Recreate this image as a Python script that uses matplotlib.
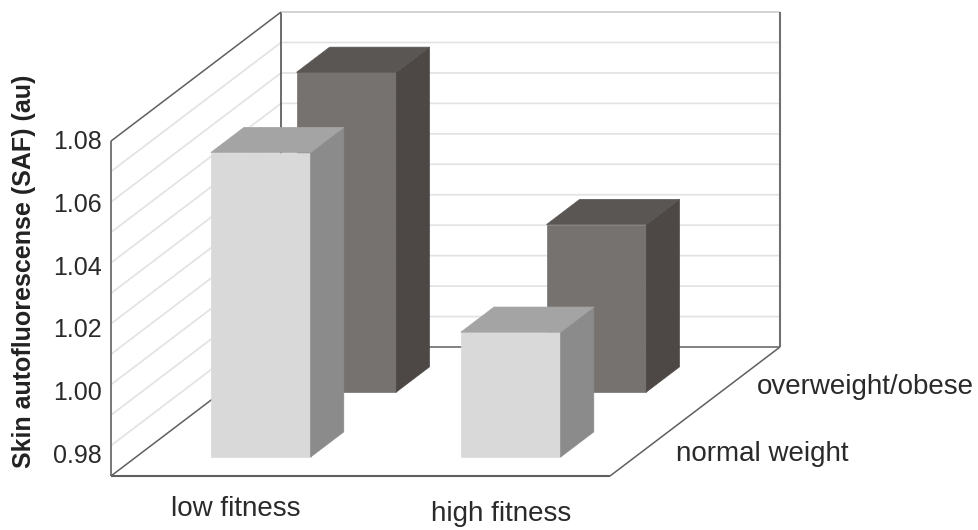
import matplotlib
matplotlib.use('Agg')
import matplotlib.pyplot as plt
from matplotlib.patches import Polygon

plt.rcParams['font.family'] = ['Liberation Sans', 'DejaVu Sans']

# Donnees
fitness = ['low fitness', 'high fitness']
weight = ['normal weight', 'overweight/obese']
saf_normal = [1.070, 1.011]
saf_over = [1.075, 1.025]
ticks = [0.98, 1.00, 1.02, 1.04, 1.06, 1.08]

# Reglages du repere 3D (en pixels)
vmin, vmax = 0.97, 1.08
x0, y0 = 111, 476
larg = 499
dx, dy = 170, 129
h_unite = 3045
grid_vals = [0.97 + 0.01 * i for i in range(12)]


def proj(u, d, v):
    return (x0 + larg * u + dx * d, y0 - dy * d - (v - vmin) * h_unite)


def bar3d(ax, u, d, val, c_front, c_side, c_top, w=0.2, p=0.195):
    a = proj(u, d, vmin)
    b = proj(u + w, d, vmin)
    c = proj(u + w, d, val)
    e = proj(u, d, val)
    f = proj(u + w, d + p, vmin)
    g = proj(u + w, d + p, val)
    h = proj(u, d + p, val)
    ax.add_patch(Polygon([a, b, c, e], fc=c_front, ec=c_front, lw=0.5, zorder=5))
    ax.add_patch(Polygon([b, f, g, c], fc=c_side, ec=c_side, lw=0.5, zorder=5))
    ax.add_patch(Polygon([e, c, g, h], fc=c_top, ec=c_top, lw=0.5, zorder=5))


fig = plt.figure(figsize=(9.79, 5.30), dpi=100)
ax = fig.add_axes([0, 0, 1, 1])
ax.set_xlim(0, 979)
ax.set_ylim(530, 0)
ax.axis('off')

# Grille sur les deux parois
for v in grid_vals[1:-1]:
    p0 = proj(0, 0, v)
    p1 = proj(0, 1, v)
    p2 = proj(1, 1, v)
    ax.plot([p0[0], p1[0], p2[0]], [p0[1], p1[1], p2[1]], color='#e2e2e2', lw=1.2, zorder=1)

# Cadre
trait = '#5f5f5f'
def seg(a, b, color=trait, lw=1.1):
    ax.plot([a[0], b[0]], [a[1], b[1]], color=color, lw=lw, zorder=2, solid_capstyle='butt')

seg(proj(0, 0, vmin), proj(0, 0, vmax), color='#777777', lw=1.4)
seg(proj(0, 0, vmax), proj(0, 1, vmax))
seg(proj(0, 0, vmin), proj(0, 1, vmin))
seg(proj(0, 1, vmin), proj(0, 1, vmax), color='#444444')
seg(proj(0, 1, vmax), proj(1, 1, vmax), color='#c8c8c8')
seg(proj(0, 1, vmin), proj(1, 1, vmin))
seg(proj(1, 1, vmin), proj(1, 1, vmax), color='#707070', lw=1.5)
seg(proj(0, 0, vmin), proj(1, 0, vmin), lw=1.5)
seg(proj(1, 0, vmin), proj(1, 1, vmin))

# Barres : le fond d'abord
ubar = [0.15, 0.651]
for i in range(2):
    bar3d(ax, ubar[i], 0.651, saf_over[i], '#767270', '#4d4846', '#5a5654')
for i in range(2):
    bar3d(ax, ubar[i], 0.147, saf_normal[i], '#d9d9d9', '#8b8b8b', '#a4a4a4')

# Textes
for v in ticks:
    ax.text(102, 142 + (1.08 - v) * 3140, '%.2f' % v, ha='right', va='center', fontsize=18, color='#2a2a2a')
ax.text(24, 271, 'Skin autofluorescense (SAF) (au)', rotation=90, ha='center', va='center',
        fontsize=18, fontweight='bold', color='#222222')
ax.text(235.5, 509, fitness[0], ha='center', va='center', fontsize=20, color='#2a2a2a')
ax.text(501.5, 514, fitness[1], ha='center', va='center', fontsize=20, color='#2a2a2a')
ax.text(676, 454, weight[0], ha='left', va='center', fontsize=20, color='#2a2a2a')
ax.text(757, 387, weight[1], ha='left', va='center', fontsize=20, color='#2a2a2a')

fig.savefig('out.png', dpi=100)
